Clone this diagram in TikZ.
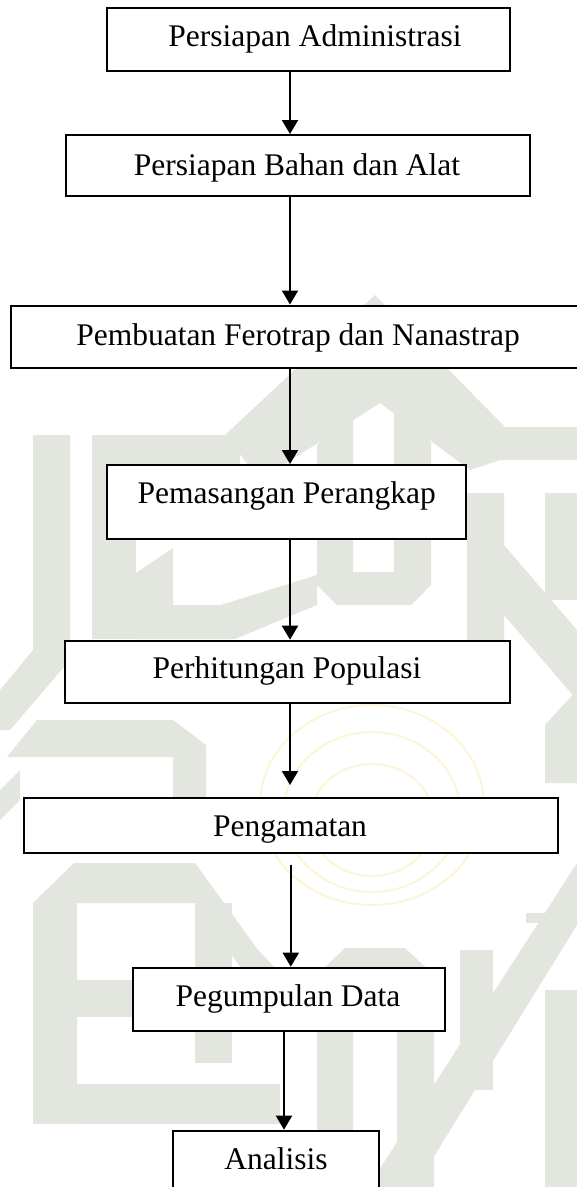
\documentclass[tikz,border=0pt]{standalone}
\usepackage{fontspec}
\setmainfont{Liberation Serif}
\usetikzlibrary{arrows.meta}
\definecolor{wm}{HTML}{E2E6DF}
\definecolor{wy}{HTML}{FCF6D6}
\begin{document}
\begin{tikzpicture}[x=1pt,y=-1pt,
  stepbox/.style={draw=black,fill=white,line width=2pt,rectangle,inner sep=0pt},
  lbl/.style={anchor=base,inner sep=0pt,font=\fontsize{31.5}{38}\selectfont},
  arr/.style={line width=2pt,-{Triangle[width=16pt,length=14pt]}},
  wmark/.style={fill=wm},
  wlogo/.style={draw=wy,line width=2pt}]
\useasboundingbox (0,0) rectangle (577,1187);
\clip (0,0) rectangle (577,1187);
\fill[white] (0,0) rectangle (577,1187);

% ---- watermark (background pattern) ----
% roof
\fill[wmark] (225,435) -- (375,295) -- (505,427) -- (577,427) -- (577,460) -- (500,460) -- (470,470) -- (380,403) -- (260,480) -- cycle;
% U shape
\fill[wmark] (317,445) -- (353,410) -- (353,572) -- (394,572) -- (394,407) -- (431,442) -- (431,585) -- (411,605) -- (337,605) -- (317,585) -- cycle;
% left column and blocks
\fill[wmark] (33,435) -- (70,435) -- (70,660) -- (10,730) -- (0,730) -- (0,690) -- (33,650) -- cycle;
\fill[wmark] (92,435) rectangle (136,639);
\fill[wmark] (136,435) rectangle (240,468);
\fill[wmark] (136,573) -- (173,548) -- (173,605) -- (136,605) -- cycle;
\fill[wmark] (136,605) -- (221,605) -- (317,575) -- (317,605) -- (235,639) -- (136,639) -- cycle;
% right column
\fill[wmark] (467,493) -- (504,493) -- (504,545) -- (577,630) -- (577,700) -- (504,615) -- (504,660) -- (467,660) -- cycle;
\fill[wmark] (545,493) rectangle (577,600);
% middle left band
\fill[wmark] (37,720) -- (173,720) -- (206,745) -- (206,800) -- (173,800) -- (173,757) -- (7,757) -- cycle;
\fill[wmark] (0,790) -- (20,770) -- (20,800) -- (0,820) -- cycle;
% right middle
\fill[wmark] (577,690) -- (577,783) -- (545,783) -- (545,725) -- cycle;
% lower left "E" and "k"
\fill[wmark] (33,903) -- (74,863) -- (195,863) -- (258,950) -- (280,973) -- (245,973) -- (205,920) -- (195,903) -- (77,903) -- (77,1124) -- (33,1124) -- cycle;
\fill[wmark] (195,903) rectangle (232,1063);
\fill[wmark] (77,980) rectangle (132,1017);
\fill[wmark] (33,1084) rectangle (280,1124);
% arch
\fill[wmark] (317,1187) -- (317,975) -- (345,948) -- (405,948) -- (434,975) -- (434,1187) -- (397,1187) -- (397,988) -- (353,988) -- (353,1187) -- cycle;
% right lower
\fill[wmark] (577,863) -- (577,925) -- (415,1187) -- (368,1187) -- cycle;
\fill[wmark] (460,950) rectangle (493,1090);
\fill[wmark] (526,913) rectangle (577,923);
\fill[wmark] (545,990) rectangle (577,1187);
% faint yellow logo
\draw[wlogo] (372,805) ellipse [x radius=112, y radius=100];
\draw[wlogo] (372,812) ellipse [x radius=88, y radius=80];
\draw[wlogo] (372,820) ellipse [x radius=62, y radius=56];

% ---- flowchart ----
\coordinate (ax) at (290,0);
\coordinate (ax6) at (290.8,0);
\coordinate (ax7) at (284,0);

\node[stepbox,minimum width=403pt,minimum height=62.4pt] (b1) at (308.2,39.5) {};
\node[stepbox,minimum width=464.5pt,minimum height=60.7pt] (b2) at (297.75,165.35) {};
\node[stepbox,minimum width=574pt,minimum height=62.8pt] (b3) at (298,336.9) {};
\node[stepbox,minimum width=358.9pt,minimum height=74pt] (b4) at (286.15,502) {};
\node[stepbox,minimum width=444.9pt,minimum height=62.6pt] (b5) at (287.25,672) {};
\node[stepbox,minimum width=534.7pt,minimum height=54.7pt] (b6) at (290.95,825.35) {};
\node[stepbox,minimum width=312.8pt,minimum height=63.6pt] (b7) at (288.9,999.5) {};
\node[stepbox,minimum width=206pt,minimum height=79.3pt] (b8) at (276,1170.35) {};

\node[lbl] (t1) at (315,46.7) {Persiapan Administrasi};
\node[lbl] (t2) at (297,175) {Persiapan Bahan dan Alat};
\node[lbl] (t3) at (298,345) {Pembuatan Ferotrap dan Nanastrap};
\node[lbl] (t4) at (286.7,503.3) {Pemasangan Perangkap};
\node[lbl] (t5) at (287,678.3) {Perhitungan Populasi};
\node[lbl] (t6) at (290,836.7) {Pengamatan};
\node[lbl] (t7) at (288,1006) {Pegumpulan Data};
\node[lbl] (t8) at (276,1169.3) {Analisis};

\draw[arr] (b1.south -| ax) -- (b2.north -| ax);
\draw[arr] (b2.south -| ax) -- (b3.north -| ax);
\draw[arr] (b3.south -| ax) -- (b4.north -| ax);
\draw[arr] (b4.south -| ax) -- (b5.north -| ax);
\draw[arr,shorten >=12pt] (b5.south -| ax) -- (b6.north -| ax);
\draw[arr,shorten <=11pt] (b6.south -| ax6) -- (b7.north -| ax6);
\draw[arr] (b7.south -| ax7) -- (b8.north -| ax7);
\end{tikzpicture}
\end{document}
